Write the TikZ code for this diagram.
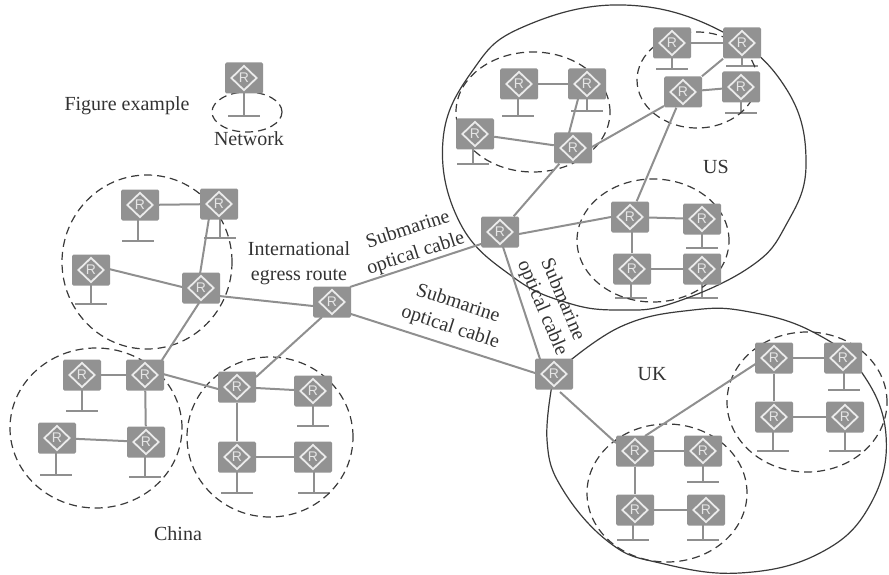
\documentclass[tikz,border=0pt]{standalone}
\usepackage{fontspec}
\setmainfont{Liberation Serif}
\newfontfamily\rfont{Liberation Sans}
\usetikzlibrary{shapes.geometric,backgrounds,calc}
\definecolor{boxgray}{HTML}{929292}
\definecolor{linkgray}{HTML}{8F8F8F}
\definecolor{inkgray}{HTML}{3A3A3A}
\tikzset{
  routerbox/.style={rectangle,rounded corners=1.5pt,fill=boxgray,minimum width=38pt,minimum height=31pt,inner sep=0pt},
  routermark/.style={diamond,draw=white!92!black,line width=1.8pt,minimum width=26pt,minimum height=25pt,inner sep=0pt},
  routerletter/.style={font=\rfont\fontsize{14}{14}\selectfont,text=white!90!black,inner sep=0pt},
  link/.style={draw=linkgray,line width=2pt},
  netcircle/.style={draw=inkgray,line width=1.2pt,dash pattern=on 8pt off 5pt},
  region/.style={draw=inkgray,line width=1.2pt},
  caption/.style={font=\fontsize{20}{25}\selectfont,text=black!80,align=center,inner sep=0pt}
}
\newcommand{\rtr}[3]{\node[routerbox] (#1) at (#2,#3) {};\node[routermark] at (#1) {};\node[routerletter] at (#1) {R};}
\newcommand{\stb}[3]{\coordinate (#1s) at (#2,#3);
  \begin{pgfonlayer}{background}
  \draw[link] (#1s |- #1) -- (#1s);
  \draw[link] ($(#1s)+(-16,0)$) -- ($(#1s)+(16,0)$);
  \end{pgfonlayer}}
\begin{document}
\begin{tikzpicture}[x=1pt,y=-1pt]
\useasboundingbox (0,0) rectangle (889,575);
% routers
\rtr{L}{244}{78}
\rtr{aa}{140}{205}\rtr{ab}{219}{204}\rtr{ac}{91}{270}\rtr{ad}{201}{288}
\rtr{I}{332}{302}
\rtr{ba}{82}{375}\rtr{bb}{145}{375}\rtr{bc}{57}{438}\rtr{bd}{146}{442}
\rtr{ca}{237}{387}\rtr{cb}{313}{391}\rtr{cc}{237}{457}\rtr{cd}{313}{457}
\rtr{da}{519}{84}\rtr{db}{587}{84}\rtr{dc}{475}{134}\rtr{dd}{573}{148}
\rtr{ea}{672}{43}\rtr{eb}{742}{43}\rtr{ec}{683}{92}\rtr{ed}{741}{87}
\rtr{f}{500}{232}
\rtr{ga}{630}{217}\rtr{gb}{702}{219}\rtr{gc}{632}{269}\rtr{gd}{702}{269}
\rtr{h}{554}{374}
\rtr{ja}{774}{358}\rtr{jb}{843}{358}\rtr{jc}{774}{417}\rtr{jd}{845}{417}
\rtr{ka}{635}{451}\rtr{kb}{703}{451}\rtr{kc}{635}{510}\rtr{kd}{706}{510}
% stubs
\stb{L}{244}{116}
\stb{aa}{138}{241}\stb{ab}{220}{238}\stb{ac}{91}{304}
\stb{ba}{82}{411}\stb{bc}{56}{475}\stb{bd}{145}{477}
\stb{cb}{313}{426}\stb{cc}{237}{493}\stb{cd}{314}{493}
\stb{da}{518}{116}\stb{db}{587}{111}\stb{dc}{473}{164}
\stb{ea}{672}{69}\stb{eb}{742}{66}\stb{ed}{741}{113}
\stb{gb}{702}{248}\stb{gc}{631}{298}\stb{gd}{702}{298}
\stb{jb}{844}{390}\stb{jc}{773}{451}\stb{jd}{845}{451}
\stb{kb}{703}{482}\stb{kc}{633}{540}\stb{kd}{703}{540}
\begin{pgfonlayer}{background}
% network circles
\draw[netcircle] (247,112) ellipse [x radius=35pt,y radius=20pt];
\draw[netcircle] (147,262) ellipse [x radius=85pt,y radius=87pt];
\draw[netcircle] (96,428) ellipse [x radius=86pt,y radius=80pt];
\draw[netcircle] (270,437) ellipse [x radius=83pt,y radius=80pt];
\draw[netcircle] (533,112) ellipse [x radius=77pt,y radius=60pt];
\draw[netcircle] (697,80) ellipse [x radius=60pt,y radius=48pt];
\draw[netcircle] (653,240.5) ellipse [x radius=76pt,y radius=61.5pt];
\draw[netcircle] (807,402) ellipse [x radius=80pt,y radius=70pt];
\draw[netcircle] (667,493) ellipse [x radius=80pt,y radius=69pt];
% regions
\draw[region] plot[smooth cycle,tension=0.7] coordinates {(443,140) (473,70) (523,27) (623,5) (723,32) (787,90) (806,165) (786,225) (750,267) (673,303) (620,310) (568,303) (513,277) (460,223)};
\draw[region] plot[smooth,tension=0.7] coordinates {(h) (620,327) (693,310) (750,312) (813,332) (860,370) (886,435) (870,505) (820,553) (740,573) (660,563) (610,543) (563,490) (547,440) (h)};
% links
\draw[link] (aa) -- (ab);
\draw[link] ($(ab)+(-10,14)$) -- ($(ad)+(-1,-14)$);
\draw[link] ($(ac)+(18,-1)$) -- ($(ad)+(-19,-1)$);
\draw[link] ($(ad)+(18,8)$) -- ($(I)+(-19,4)$);
\draw[link] ($(ad)+(-2,15)$) -- ($(bb)+(17,-15)$);
\draw[link] (ba) -- (bb);
\draw[link] (bb) -- (bd);
\draw[link] (bc) -- (bd);
\draw[link] ($(bb)+(18,-1)$) -- ($(ca)+(-19,2)$);
\draw[link] ($(ca)+(19,-10)$) -- ($(I)+(-10,15)$);
\draw[link] (ca) -- (cb);
\draw[link] (ca) -- (cc);
\draw[link] (cc) -- (cd);
\draw[link] ($(I)+(18,-15)$) -- ($(f)+(-19,12)$);
\draw[link] ($(I)+(19,12)$) -- ($(h)+(-19,-1)$);
\draw[link] (f) -- (dd);
\draw[link] ($(db)+(-9,15)$) -- ($(dd)+(-4,-15)$);
\draw[link] (dc) -- (dd);
\draw[link] (da) -- (db);
\draw[link] ($(dd)+(19,-1)$) -- ($(ec)+(-19,14)$);
\draw[link] (ec) -- (eb);
\draw[link] (ea) -- (eb);
\draw[link] (ec) -- (ed);
\draw[link] (ec) -- (ga);
\draw[link] ($(f)+(19,2)$) -- ($(ga)+(-19,0)$);
\draw[link] (ga) -- (gb);
\draw[link] ($(ga)+(2,0)$) -- (gc);
\draw[link] (gc) -- (gd);
\draw[link] ($(f)+(3,15)$) -- ($(h)+(-14,-15)$);
\draw[link] ($(h)+(6,18)$) -- ($(ka)+(-19,-8)$);
\draw[link] ($(ka)+(10,-15)$) -- ($(ja)+(-17,5)$);
\draw[link] (ja) -- (jb);
\draw[link] (ja) -- (jc);
\draw[link] (jc) -- (jd);
\draw[link] (ka) -- (kb);
\draw[link] (ka) -- (kc);
\draw[link] (kc) -- (kd);
\end{pgfonlayer}
% labels
\node[caption] (t1) at (127,106) {Figure example};
\node[caption] (t2) at (249,139) {Network};
\node[caption] (t3) at (178,534) {China};
\node[caption] (t4) at (299,263) {International\\egress route};
\node[caption,rotate=18] (t5) at (412,242) {Submarine\\optical cable};
\node[caption,rotate=-18] (t6) at (454,316) {Submarine\\optical cable};
\node[caption,rotate=-67] (t7) at (552,304) {Submarine\\[-3pt]optical cable};
\node[caption] (t8) at (716,167) {US};
\node[caption] (t9) at (652,374) {UK};
\end{tikzpicture}
\end{document}
